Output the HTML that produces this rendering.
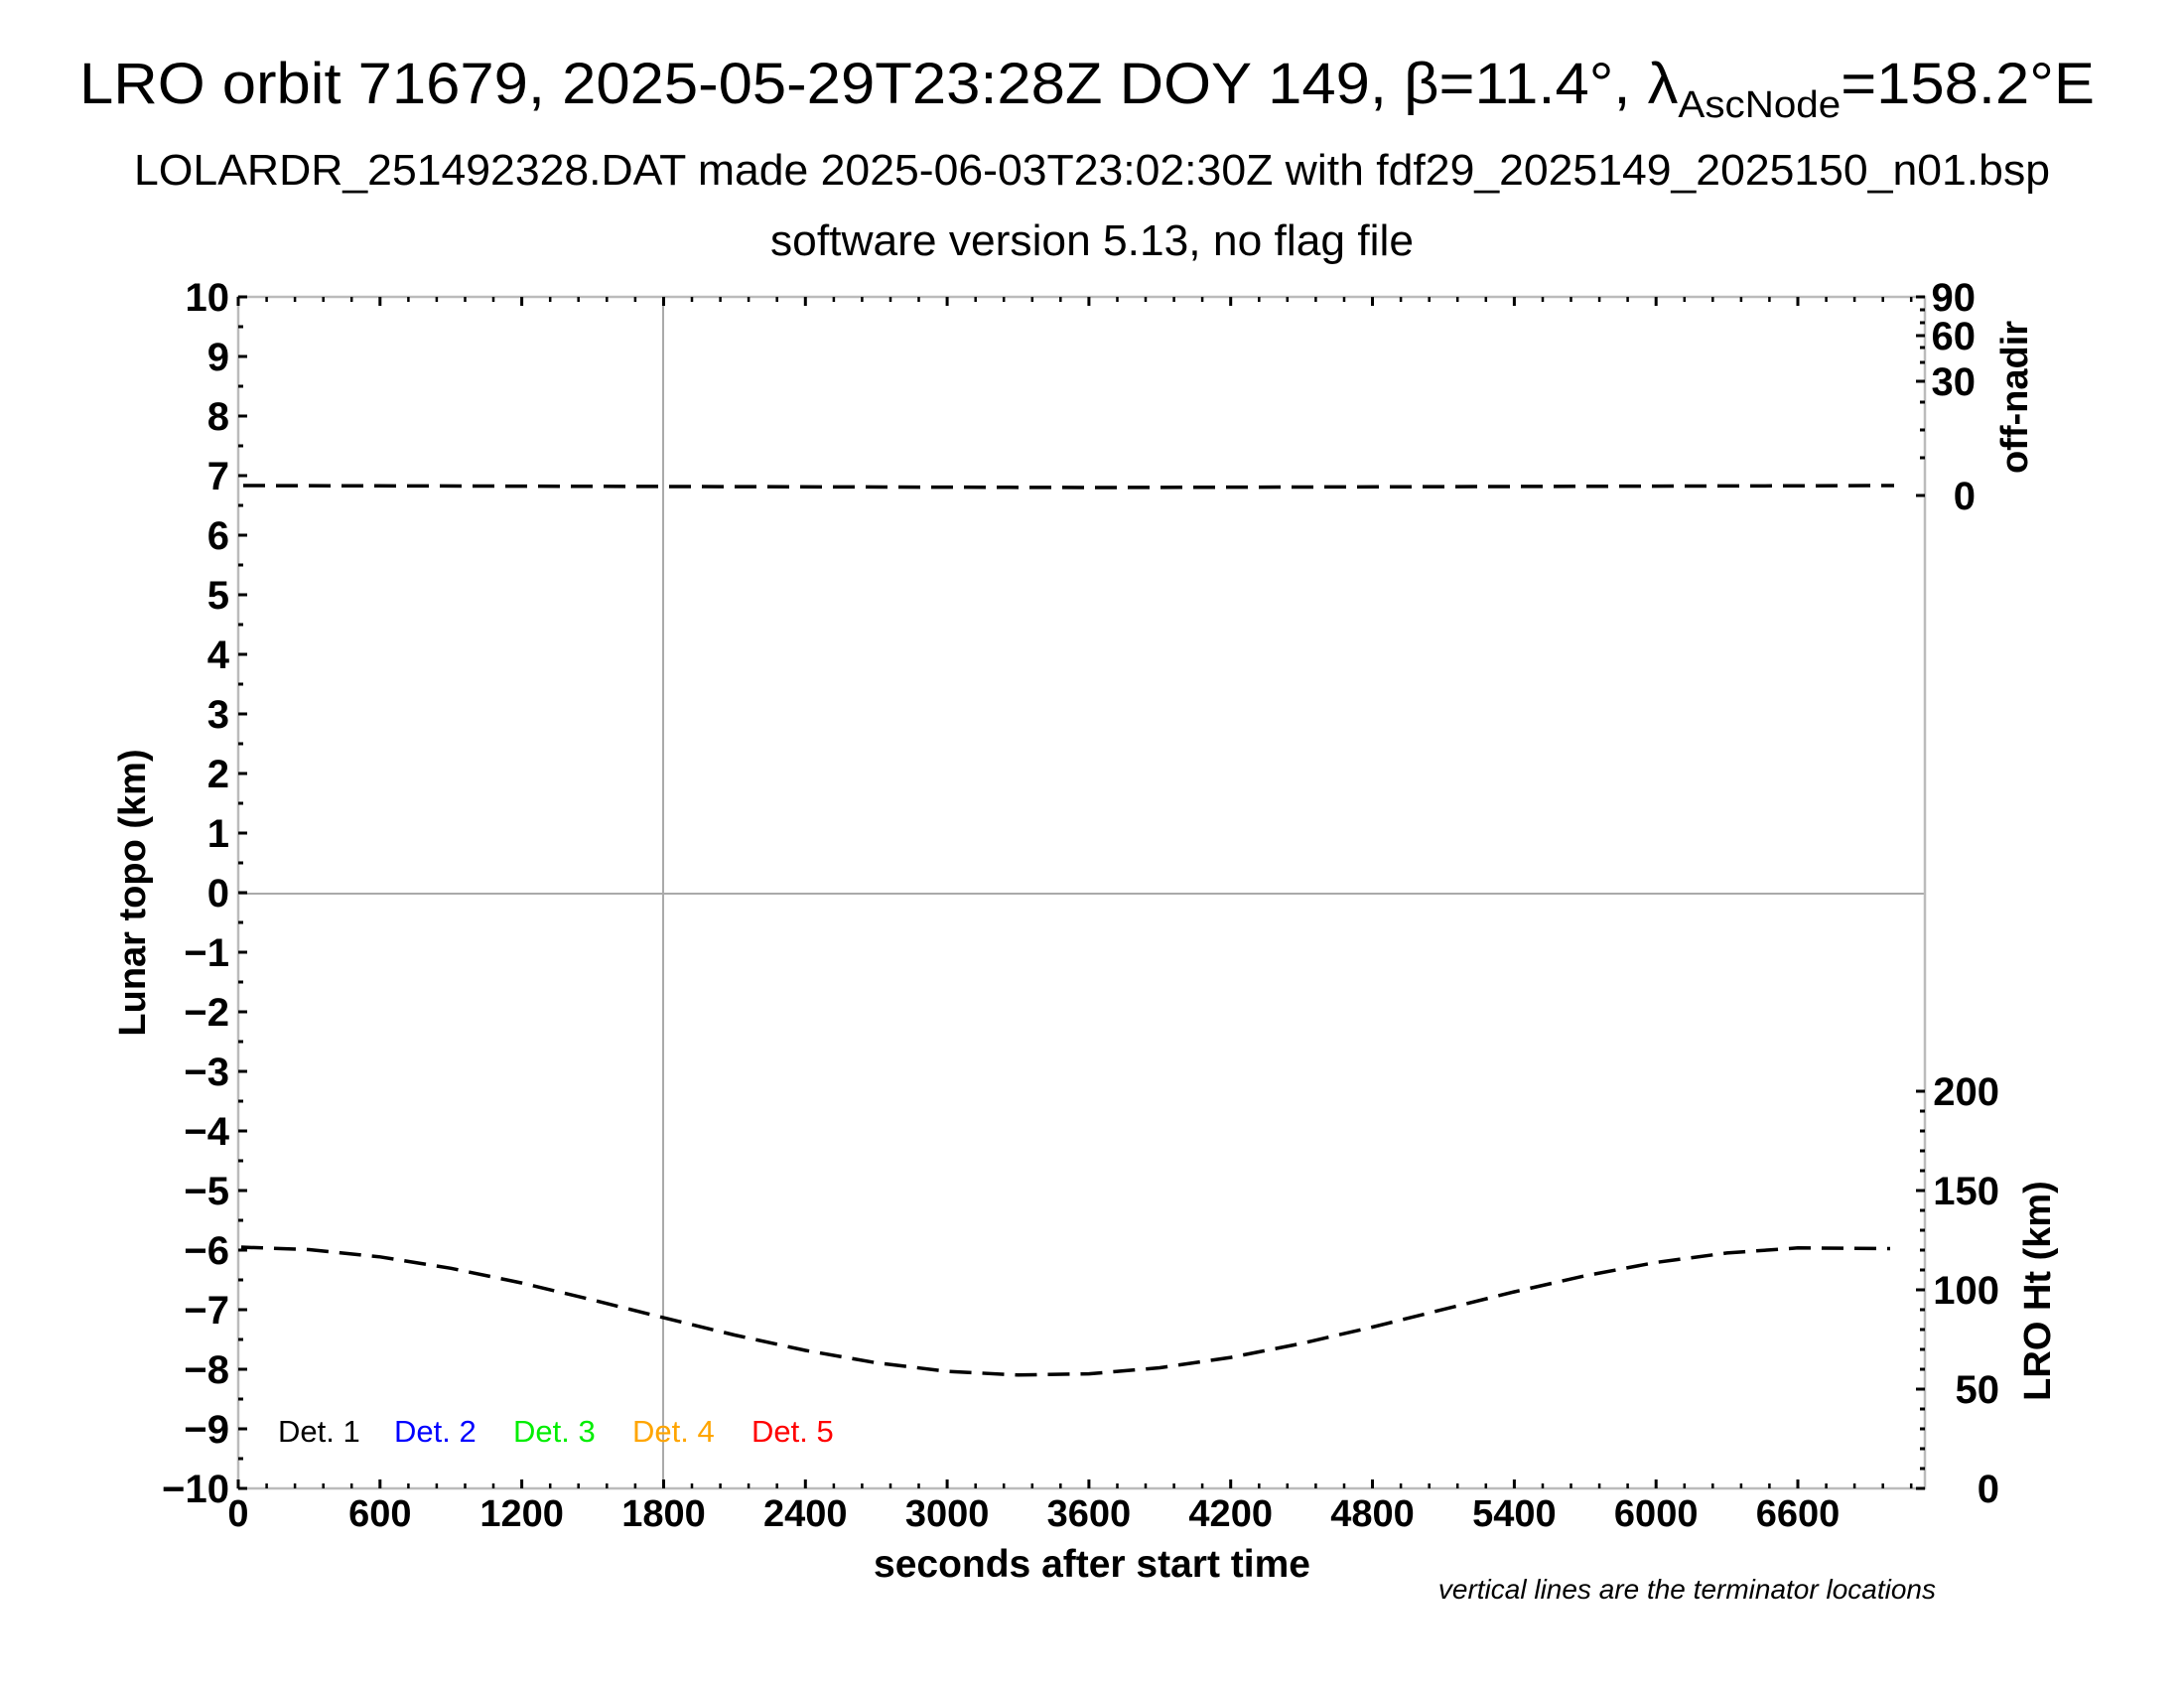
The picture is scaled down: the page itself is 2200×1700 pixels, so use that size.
<!DOCTYPE html>
<html><head><meta charset="utf-8"><style>html,body{margin:0;padding:0;background:#fff}svg{display:block}</style></head>
<body>
<svg width="2200" height="1700" viewBox="0 0 2200 1700" xmlns="http://www.w3.org/2000/svg" font-family="Liberation Sans, Arial, sans-serif">
<rect width="2200" height="1700" fill="#fff"/>
<text x="1095" y="104" font-size="58" text-anchor="middle" textLength="2030" lengthAdjust="spacingAndGlyphs">LRO orbit 71679, 2025-05-29T23:28Z DOY 149, β=11.4°, λ<tspan font-size="38" dy="14">AscNode</tspan><tspan dy="-14">=158.2°E</tspan></text>
<text x="1100" y="186" font-size="44" text-anchor="middle" textLength="1930" lengthAdjust="spacingAndGlyphs">LOLARDR_251492328.DAT made 2025-06-03T23:02:30Z with fdf29_2025149_2025150_n01.bsp</text>
<text x="1100" y="257" font-size="44" text-anchor="middle" textLength="648" lengthAdjust="spacingAndGlyphs">software version 5.13, no flag file</text>
<line x1="668" y1="299" x2="668" y2="1499" stroke="#aaa" stroke-width="2"/>
<line x1="240" y1="900" x2="1939" y2="900" stroke="#aaa" stroke-width="2"/>
<rect x="240" y="299" width="1699" height="1200" fill="none" stroke="#bbb" stroke-width="2.5"/>
<g stroke="#000" stroke-width="3">
<path d="M240 299h9M240 359h9M240 419h9M240 479h9M240 539h9M240 599h9M240 659h9M240 719h9M240 779h9M240 839h9M240 899h9M240 959h9M240 1019h9M240 1079h9M240 1139h9M240 1199h9M240 1259h9M240 1319h9M240 1379h9M240 1439h9M240 1499h9"/>
<path d="M240 329h5M240 389h5M240 449h5M240 509h5M240 569h5M240 629h5M240 689h5M240 749h5M240 809h5M240 869h5M240 929h5M240 989h5M240 1049h5M240 1109h5M240 1169h5M240 1229h5M240 1289h5M240 1349h5M240 1409h5M240 1469h5"/>
<path d="M1939 1499h-9M1939 1399h-9M1939 1299h-9M1939 1199h-9M1939 1099h-9"/>
<path d="M1939 1479h-5M1939 1459h-5M1939 1439h-5M1939 1419h-5M1939 1379h-5M1939 1359h-5M1939 1339h-5M1939 1319h-5M1939 1279h-5M1939 1259h-5M1939 1239h-5M1939 1219h-5M1939 1179h-5M1939 1159h-5M1939 1139h-5M1939 1119h-5"/>
<path d="M1939 499h-9M1939 384h-9M1939 338h-9M1939 299h-9"/>
<path d="M1939 461h-5M1939 433h-5M1939 405h-5M1939 365h-5M1939 350h-5M1939 325h-5M1939 312h-5"/>
<path d="M240 1499v-9M382.8 1499v-9M525.6 1499v-9M668.5 1499v-9M811.3 1499v-9M954.1 1499v-9M1096.9 1499v-9M1239.7 1499v-9M1382.5 1499v-9M1525.4 1499v-9M1668.2 1499v-9M1811 1499v-9"/>
<path d="M240 299v9M382.8 299v9M525.6 299v9M668.5 299v9M811.3 299v9M954.1 299v9M1096.9 299v9M1239.7 299v9M1382.5 299v9M1525.4 299v9M1668.2 299v9M1811 299v9"/>
</g>
<g fill="none" stroke="#000" stroke-width="3.5" stroke-dasharray="22,11">
<path d="M245 489 L700 490 L1100 491 L1500 490 L1908 489"/>
<path d="M243 1256 L311.4 1258.5 L382.8 1265.8 L454.2 1277.3 L525.6 1292.1 L597 1309.2 L668.5 1327.1 L739.9 1344.5 L811.3 1360 L882.7 1372.5 L954.1 1381.1 L1025.5 1384.8 L1096.9 1383.6 L1168.3 1377.5 L1239.7 1367.1 L1311.1 1353 L1382.5 1336.5 L1453.9 1318.7 L1525.4 1301 L1596.8 1284.8 L1668.2 1271.4 L1739.6 1261.9 L1811 1256.8 L1904 1257.5"/>
</g>
<g font-size="40" font-weight="bold" text-anchor="end">
<text x="231" y="313">10</text><text x="231" y="373">9</text><text x="231" y="433">8</text><text x="231" y="493">7</text><text x="231" y="553">6</text><text x="231" y="613">5</text><text x="231" y="673">4</text><text x="231" y="733">3</text><text x="231" y="793">2</text><text x="231" y="853">1</text><text x="231" y="913">0</text><text x="231" y="973">−1</text><text x="231" y="1033">−2</text><text x="231" y="1093">−3</text><text x="231" y="1153">−4</text><text x="231" y="1213">−5</text><text x="231" y="1273">−6</text><text x="231" y="1333">−7</text><text x="231" y="1393">−8</text><text x="231" y="1453">−9</text><text x="231" y="1513">−10</text>
</g>
<g font-size="38" font-weight="bold" text-anchor="middle">
<text x="240" y="1537">0</text><text x="382.8" y="1537">600</text><text x="525.6" y="1537">1200</text><text x="668.5" y="1537">1800</text><text x="811.3" y="1537">2400</text><text x="954.1" y="1537">3000</text><text x="1096.9" y="1537">3600</text><text x="1239.7" y="1537">4200</text><text x="1382.5" y="1537">4800</text><text x="1525.4" y="1537">5400</text><text x="1668.2" y="1537">6000</text><text x="1811" y="1537">6600</text>
</g>
<g font-size="40" font-weight="bold" text-anchor="end">
<text x="2014" y="1513">0</text><text x="2014" y="1413">50</text><text x="2014" y="1313">100</text><text x="2014" y="1213">150</text><text x="2014" y="1113">200</text>
<text x="1990" y="513">0</text><text x="1990" y="398">30</text><text x="1990" y="352">60</text><text x="1990" y="313">90</text>
</g>
<text x="1100" y="1588" font-size="39" font-weight="bold" text-anchor="middle">seconds after start time</text>
<text transform="translate(146,899) rotate(-90)" font-size="38" font-weight="bold" text-anchor="middle">Lunar topo (km)</text>
<text transform="translate(2042,400) rotate(-90)" font-size="38" font-weight="bold" text-anchor="middle">off-nadir</text>
<text transform="translate(2065,1300) rotate(-90)" font-size="38" font-weight="bold" text-anchor="middle">LRO Ht (km)</text>
<text x="1950" y="1610" font-size="28" font-style="italic" text-anchor="end">vertical lines are the terminator locations</text>
<g font-size="31">
<text x="280" y="1452" fill="#000">Det. 1</text>
<text x="397" y="1452" fill="#0000ff">Det. 2</text>
<text x="517" y="1452" fill="#00ee00">Det. 3</text>
<text x="637" y="1452" fill="#ffa500">Det. 4</text>
<text x="757" y="1452" fill="#ff0000">Det. 5</text>
</g>
<g stroke="#000" stroke-width="2.5">
<path d="M268.6 1499v-5M297.1 1499v-5M325.7 1499v-5M354.2 1499v-5M411.4 1499v-5M439.9 1499v-5M468.5 1499v-5M497 1499v-5M554.2 1499v-5M582.7 1499v-5M611.3 1499v-5M639.9 1499v-5M697 1499v-5M725.6 1499v-5M754.1 1499v-5M782.7 1499v-5M839.9 1499v-5M868.4 1499v-5M897 1499v-5M925.5 1499v-5M982.7 1499v-5M1011.2 1499v-5M1039.8 1499v-5M1068.3 1499v-5M1125.5 1499v-5M1154 1499v-5M1182.6 1499v-5M1211.1 1499v-5M1268.3 1499v-5M1296.8 1499v-5M1325.4 1499v-5M1354 1499v-5M1411.1 1499v-5M1439.7 1499v-5M1468.2 1499v-5M1496.8 1499v-5M1554 1499v-5M1582.5 1499v-5M1611.1 1499v-5M1639.6 1499v-5M1696.8 1499v-5M1725.3 1499v-5M1753.9 1499v-5M1782.4 1499v-5M1839.6 1499v-5M1868.1 1499v-5M1896.7 1499v-5M1925.2 1499v-5"/>
<path d="M268.6 299v5M297.1 299v5M325.7 299v5M354.2 299v5M411.4 299v5M439.9 299v5M468.5 299v5M497 299v5M554.2 299v5M582.7 299v5M611.3 299v5M639.9 299v5M697 299v5M725.6 299v5M754.1 299v5M782.7 299v5M839.9 299v5M868.4 299v5M897 299v5M925.5 299v5M982.7 299v5M1011.2 299v5M1039.8 299v5M1068.3 299v5M1125.5 299v5M1154 299v5M1182.6 299v5M1211.1 299v5M1268.3 299v5M1296.8 299v5M1325.4 299v5M1354 299v5M1411.1 299v5M1439.7 299v5M1468.2 299v5M1496.8 299v5M1554 299v5M1582.5 299v5M1611.1 299v5M1639.6 299v5M1696.8 299v5M1725.3 299v5M1753.9 299v5M1782.4 299v5M1839.6 299v5M1868.1 299v5M1896.7 299v5M1925.2 299v5"/>
</g>
</svg>
</body></html>
